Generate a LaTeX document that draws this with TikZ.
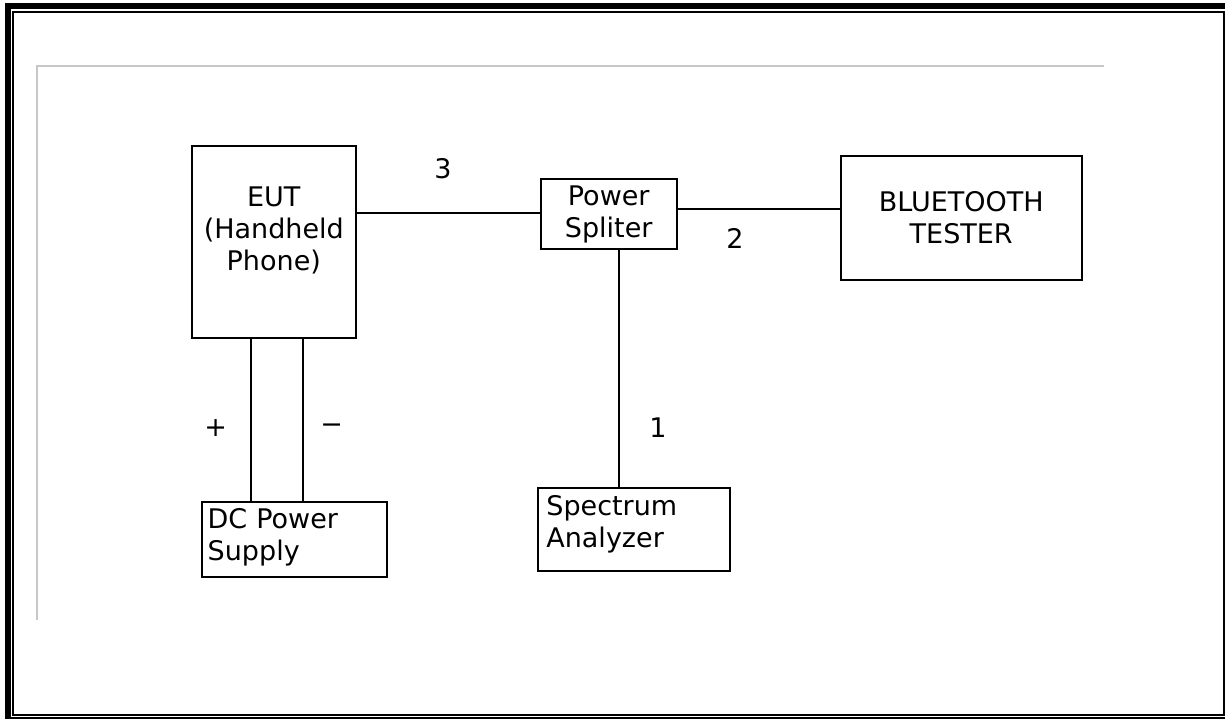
\documentclass[tikz,border=0pt]{standalone}
\usepackage{fontspec}
\setmainfont{DejaVu Sans}
\tikzset{
  unit/.style={draw, line width=1.8pt, rectangle, align=center, inner sep=6pt},
  wire/.style={line width=1.8pt},
  tag/.style={inner sep=0pt},
}
\begin{document}
\begin{tikzpicture}[x=1pt,y=-1pt,font=\fontsize{27}{32}\selectfont]
\useasboundingbox (0,0) rectangle (1225,719);
% frame
\draw [line width=6pt] (8,6) rectangle (1230,720);
\draw [line width=2pt] (13.3,12) rectangle (1223.8,714.5);
\draw [line width=2.5pt, color=black!22] (1104,66) -- (37,66) -- (37,620);

% units
\node (eut) [unit, minimum width=164pt, minimum height=192pt, text depth=27.6pt] at (273.8,242) {EUT\\(Handheld\\Phone)};
\node (ps) [unit, minimum width=136pt, minimum height=70pt] at (608.7,214.3) {Power\\Spliter};
\node (bt) [unit, minimum width=241pt, minimum height=124pt] at (961.2,217.8) {BLUETOOTH\\TESTER};
\node (sa) [unit, inner xsep=8pt, inner ysep=2pt, text width=175.7pt, align=left, minimum height=83pt, text depth=48.4pt] at (634.2,529.2) {Spectrum\\Analyzer};
\node (dc) [unit, inner ysep=2pt, text width=173pt, align=left, minimum height=75.6pt, text depth=42.4pt] at (294.2,539.5) {DC Power\\Supply};

% wires
\draw [wire] ([yshift=1.6pt]ps.west -| eut.east) -- ([yshift=1.6pt]ps.west);
\draw [wire] ([yshift=5pt]ps.east) -- ([yshift=5pt]ps.east -| bt.west);
\draw [wire] ([xshift=10.6pt]ps.south) -- ([xshift=10.6pt]ps.south |- sa.north);
\draw [wire] ([xshift=-23.1pt]eut.south) -- ([xshift=-23.1pt]eut.south |- dc.north);
\draw [wire] ([xshift=29.5pt]eut.south) -- ([xshift=29.5pt]eut.south |- dc.north);

\node (n3) [tag] at (443,169) {3};
\node (n2) [tag] at (735,238) {2};
\node (n1) [tag] at (658,428) {1};
\node (plus) [tag] at (215.7,428) {+};
\node (minus) [tag] at (331.7,429) {−};
\end{tikzpicture}
\end{document}
